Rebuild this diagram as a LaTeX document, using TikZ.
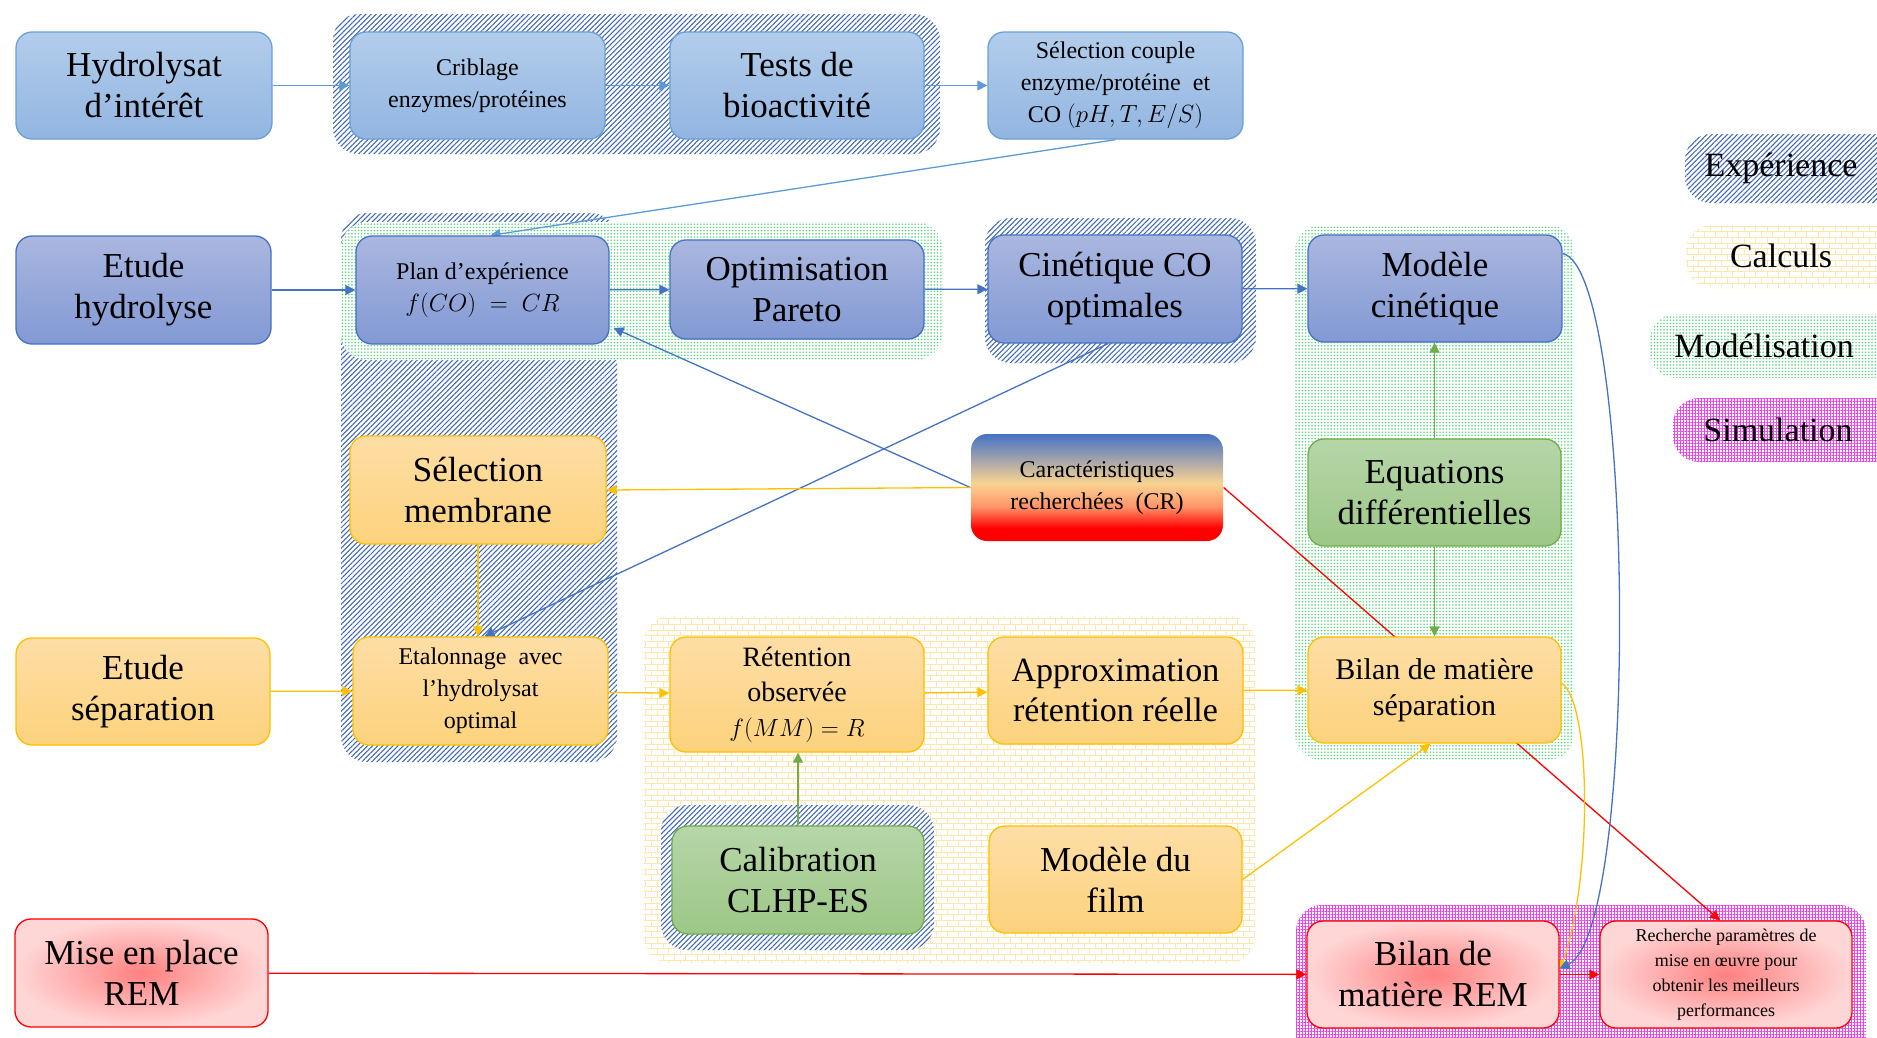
\documentclass[tikz,border=0pt]{standalone}
\usepackage{fontspec}
\setmainfont{Liberation Serif}
\usetikzlibrary{arrows.meta,patterns,patterns.meta}
\definecolor{lbT}{HTML}{B3CDEB}
\definecolor{lbB}{HTML}{92B5E1}
\definecolor{lbD}{HTML}{6A9FD8}
\definecolor{pbT}{HTML}{AAB7DF}
\definecolor{pbB}{HTML}{8299D4}
\definecolor{pbD}{HTML}{4472C4}
\definecolor{ybT}{HTML}{FEDEA6}
\definecolor{ybB}{HTML}{FCD27C}
\definecolor{ybD}{HTML}{FFC000}
\definecolor{gbT}{HTML}{B6D6A8}
\definecolor{gbB}{HTML}{9CC787}
\definecolor{gbD}{HTML}{70AD47}
\definecolor{rbI}{HTML}{FF8080}
\definecolor{rbO}{HTML}{FFD6D6}
\definecolor{cLB}{HTML}{5B9BD5}
\definecolor{cB}{HTML}{4472C4}
\definecolor{cY}{HTML}{FFC000}
\definecolor{cG}{HTML}{70AD47}
\definecolor{cR}{HTML}{FF0000}
\definecolor{hatchc}{HTML}{3D66B8}
\definecolor{dotc}{HTML}{3FD86A}
\definecolor{brickc}{HTML}{FFE6AA}
\definecolor{simc}{HTML}{F040F0}
\definecolor{carB}{HTML}{4472C4}
\definecolor{carM}{HTML}{FAD392}
\definecolor{carO}{HTML}{FF9468}
\pgfdeclareverticalshading{carshade}{100bp}{color(0bp)=(red); color(25bp)=(red); color(31bp)=(red); color(41bp)=(carO); color(52bp)=(carM); color(75bp)=(carB); color(100bp)=(carB)}
\pgfdeclarelayer{regions}
\pgfdeclarelayer{edges}
\pgfsetlayers{regions,edges,main}
\tikzset{
  box/.style={rounded corners=16pt, line width=1.3pt, align=center, inner sep=2pt},
  lb/.style={box, top color=lbT, bottom color=lbB, draw=lbD},
  pb/.style={box, top color=pbT, bottom color=pbB, draw=pbD},
  yb/.style={box, top color=ybT, bottom color=ybB, draw=ybD},
  gb/.style={box, top color=gbT, bottom color=gbB, draw=gbD},
  rb/.style={box, inner color=rbI, outer color=rbO, draw=cR},
  cb/.style={box, shading=carshade, draw=none},
  big/.style={font=\fontsize{35}{41}\selectfont},
  mid/.style={font=\fontsize{24}{32}\selectfont},
  sml/.style={font=\fontsize{18}{25}\selectfont},
  leg/.style={font=\fontsize{34}{40}\selectfont},
  expo/.style={rounded corners=26pt, preaction={fill=white}, pattern={Lines[angle=45,distance=3.6pt,line width=1.05pt]}, pattern color=hatchc},
  modl/.style={rounded corners=26pt, preaction={fill=white}, pattern={Dots[distance=3.2pt,radius=0.8pt]}, pattern color=dotc},
  calc/.style={rounded corners=26pt, preaction={fill=white}, pattern=bricks, pattern color=brickc},
  simu/.style={rounded corners=26pt, preaction={fill=white}, pattern={Hatch[angle=0,distance=3pt,line width=0.8pt]}, pattern color=simc},
  arr/.style={-{Triangle[length=10pt,width=10pt]}, line width=1.3pt},
}
\begin{document}
\begin{tikzpicture}[x=1pt,y=-1pt]
\useasboundingbox (0,0) rectangle (1877,1037);
\clip (0,0) rectangle (1877,1037);
\begin{pgfonlayer}{regions}
\fill[expo] (341,213) rectangle (617,762);
\fill[modl] (341,222) rectangle (942,360);
\fill[expo] (333,14) rectangle (940,154);
\fill[expo] (985,218) rectangle (1256,363);
\fill[modl] (1295,225) rectangle (1574,760);
\fill[calc] (644,616) rectangle (1255,963);
\fill[expo] (661,805) rectangle (934,950);
\fill[simu] (1296,905) rectangle (1866,1070);
\fill[expo] (1685,134) rectangle (1910,203);
\fill[calc] (1686,225) rectangle (1910,288);
\fill[modl] (1650,314) rectangle (1910,378);
\fill[simu] (1673,398) rectangle (1910,462);
\end{pgfonlayer}
% legend texts
\node[leg] (lexp) at (1781,168) {Expérience};
\node[leg] (lcal) at (1781,256) {Calculs};
\node[leg] (lmod) at (1764,346) {Modélisation};
\node[leg] (lsim) at (1778,430) {Simulation};
% row 1
\node[lb,big,minimum width=256pt,minimum height=107pt] (hyd) at (144,85.5) {Hydrolysat\\d’intérêt};
\node[lb,mid,minimum width=255pt,minimum height=107pt] (crib) at (477.5,85.5) {Criblage\\enzymes/protéines};
\node[lb,big,minimum width=254pt,minimum height=107pt] (tests) at (797,85.5) {Tests de\\bioactivité};
\node[lb,mid,minimum width=255pt,minimum height=107pt] (selc) at (1115.5,85.5) {Sélection couple\\enzyme/protéine~~et\\CO $(pH, T, E/S)$};
% row 2
\node[pb,big,minimum width=255pt,minimum height=108pt] (eth) at (143.5,290) {Etude\\hydrolyse};
\node[pb,mid,minimum width=253pt,minimum height=108pt] (plan) at (482.5,290) {Plan d’expérience\\$f(CO)\;=\;CR$};
\node[pb,big,minimum width=254pt,minimum height=99pt] (opt) at (797,289.5) {Optimisation\\Pareto};
\node[pb,big,minimum width=254pt,minimum height=108pt] (cin) at (1115,289) {Cinétique CO\\optimales};
\node[pb,big,minimum width=254pt,minimum height=107pt] (mod) at (1435,288.5) {Modèle\\cinétique};
% row 3
\node[yb,big,minimum width=256pt,minimum height=108pt] (selm) at (478,490) {Sélection\\membrane};
\node[cb,mid,minimum width=252pt,minimum height=107pt] (car) at (1097,487.5) {Caractéristiques\\recherchées~~(CR)};
\node[gb,big,minimum width=253pt,minimum height=107pt] (equ) at (1434.5,492.5) {Equations\\différentielles};
% row 4
\node[yb,big,minimum width=254pt,minimum height=107pt] (ets) at (143,691.5) {Etude\\séparation};
\node[yb,mid,minimum width=255pt,minimum height=108pt] (etal) at (480.5,691) {Etalonnage~~avec\\l’hydrolysat\\optimal};
\node[yb,font=\fontsize{28}{35}\selectfont,minimum width=254pt,minimum height=115pt] (ret) at (797,694.5) {Rétention\\observée\\$f(MM)=R$};
\node[yb,font=\fontsize{34}{40}\selectfont,minimum width=255pt,minimum height=107pt] (app) at (1115.5,690.5) {Approximation\\rétention réelle};
\node[yb,font=\fontsize{30}{36}\selectfont,minimum width=253pt,minimum height=106pt] (bs) at (1434.5,690) {Bilan de matière\\séparation};
% row 5
\node[gb,big,minimum width=252pt,minimum height=108pt] (cal) at (798,880) {Calibration\\CLHP-ES};
\node[yb,big,minimum width=253pt,minimum height=107pt] (film) at (1115.5,879.5) {Modèle du\\film};
% row 6
\node[rb,big,minimum width=253pt,minimum height=108pt] (mise) at (141.5,973) {Mise en place\\REM};
\node[rb,big,minimum width=252pt,minimum height=107pt] (brem) at (1433,974.5) {Bilan de\\matière REM};
\node[rb,sml,minimum width=252pt,minimum height=107pt] (rech) at (1726,974.5) {Recherche paramètres de\\mise en œuvre pour\\obtenir les meilleurs\\performances};
% connectors
\begin{pgfonlayer}{edges}
\draw[arr,cLB] (hyd) -- (crib);
\draw[arr,cLB] (crib) -- (tests);
\draw[arr,cLB] (tests) -- (selc);
\draw[arr,cLB] (selc.south) -- ([xshift=8pt]plan.north);
\draw[arr,cB] (eth) -- (plan);
\draw[arr,cB] (plan) -- (opt);
\draw[arr,cB] (opt) -- (cin);
\draw[arr,cB] (cin) -- (mod);
\draw[arr,cB] (car.west) -- ([xshift=4pt,yshift=-38pt]plan.east);
\draw[arr,cB] ([xshift=-7pt]cin.south) -- ([xshift=4pt]etal.north);
\draw[arr,cY] (car.west) -- (selm.east);
\draw[arr,cY] (selm.south) -- (selm.south |- etal.north);
\draw[arr,cY] (ets) -- (etal);
\draw[arr,cY] (etal) -- (ret);
\draw[arr,cY] (ret) -- (app);
\draw[arr,cY] (app) -- (bs);
\draw[arr,cG] (cal.north) -- (cal.north |- ret.south);
\draw[arr,cG] (equ.north) -- (equ.north |- mod.south);
\draw[arr,cG] (equ.south) -- (equ.south |- bs.north);
\draw[arr,cY] ([yshift=0pt]film.east) -- ([xshift=-4pt]bs.south);
\draw[arr,cR] (car.east) -- ([xshift=-6pt]rech.north);
\draw[arr,cY] ([yshift=7pt]bs.east) .. controls (1592,705) and (1592,880) .. ([yshift=4pt]brem.east);
\draw[arr,cB] ([yshift=35pt]mod.east) .. controls (1635,270) and (1640,930) .. ([yshift=6pt]brem.east);
\draw[arr,cR] (mise) -- (brem);
\draw[arr,cR] (brem) -- (rech);
\end{pgfonlayer}
\end{tikzpicture}
\end{document}
